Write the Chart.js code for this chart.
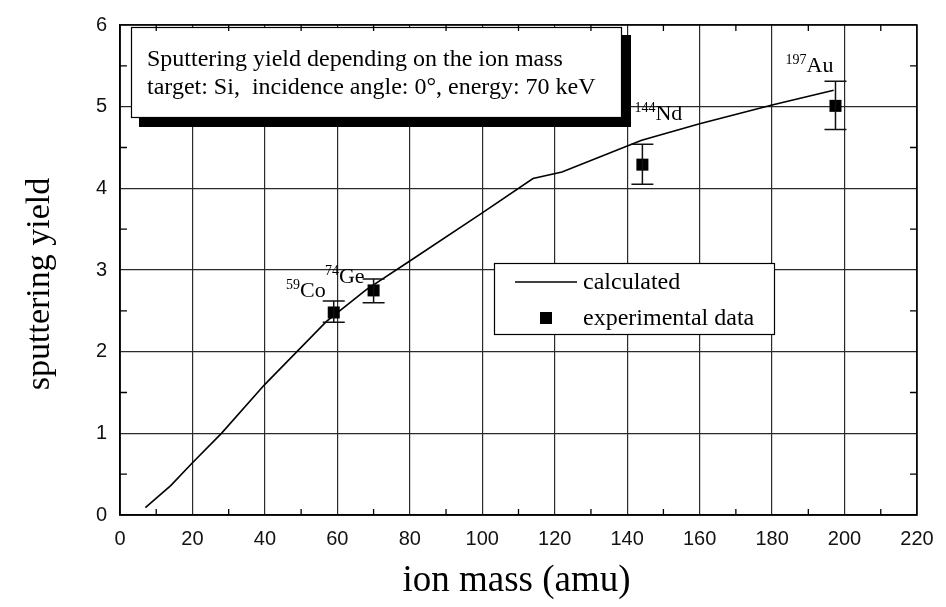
<!DOCTYPE html>
<html>
<head>
<meta charset="utf-8">
<script src="https://cdn.jsdelivr.net/npm/chart.js@4.4.0/dist/chart.umd.min.js"></script>
<style>
  html, body { margin: 0; padding: 0; background: #fff; }
  #wrap { width: 946px; height: 607px; }
</style>
</head>
<body>
<div id="wrap"><canvas id="chart" width="946" height="607"></canvas></div>
<script>
// calculated sputtering yield of Si vs. ion mass (0 deg, 70 keV)
const calcMass  = [7, 14, 20, 28, 40, 57, 68, 80, 100, 114, 122, 144, 160, 180, 197];
const calcYield = [0.09, 0.36, 0.64, 1.0, 1.6, 2.37, 2.76, 3.11, 3.7, 4.12, 4.2, 4.59, 4.79, 5.02, 5.2];

// measured yields with error bars
const expIsotope = ['59', '74', '144', '197'];
const expElement = ['Co', 'Ge', 'Nd', 'Au'];
const expMass  = [59, 70, 144.2, 197.5];
const expYield = [2.48, 2.75, 4.29, 5.01];
const expLow   = [2.36, 2.60, 4.05, 4.72];
const expHigh  = [2.62, 2.89, 4.54, 5.31];

const xTicks = [0, 20, 40, 60, 80, 100, 120, 140, 160, 180, 200, 220];
const yTicks = [0, 1, 2, 3, 4, 5, 6];

const titleLines = [
  'Sputtering yield depending on the ion mass',
  'target: Si,  incidence angle: 0°, energy: 70 keV'
];

const SERIF = '"Liberation Serif", "Times New Roman", serif';
const SANS = '"Liberation Sans", Arial, sans-serif';

// where each isotope label sits relative to its point: [dx, dy, align]
const labelPlace = [
  [-8, -15, 'right'],
  [-9, -7, 'right'],
  [-8, -45, 'left'],
  [-2, -34, 'right']
];

function drawIsotope(ctx, x, y, iso, el, align) {
  ctx.font = '14px ' + SERIF;
  const wIso = ctx.measureText(iso).width;
  ctx.font = '22px ' + SERIF;
  const wEl = ctx.measureText(el).width;
  let left = align === 'right' ? x - wIso - wEl : x;
  ctx.textAlign = 'left';
  ctx.textBaseline = 'alphabetic';
  ctx.font = '14px ' + SERIF;
  ctx.fillText(iso, left, y - 8);
  ctx.font = '22px ' + SERIF;
  ctx.fillText(el, left + wIso, y);
}

const decor = {
  id: 'decor',
  afterDatasetsDraw(chart) {
    const { ctx, scales: { x, y } } = chart;
    ctx.save();

    // error bars
    ctx.strokeStyle = '#111';
    ctx.lineWidth = 1.5;
    expMass.forEach((m, i) => {
      const px = x.getPixelForValue(m);
      const lo = y.getPixelForValue(expLow[i]);
      const hi = y.getPixelForValue(expHigh[i]);
      ctx.beginPath();
      ctx.moveTo(px, hi); ctx.lineTo(px, lo);
      ctx.moveTo(px - 11, hi); ctx.lineTo(px + 11, hi);
      ctx.moveTo(px - 11, lo); ctx.lineTo(px + 11, lo);
      ctx.stroke();
    });

    // isotope labels
    ctx.fillStyle = '#000';
    expMass.forEach((m, i) => {
      const px = x.getPixelForValue(m);
      const py = y.getPixelForValue(expYield[i]);
      const p = labelPlace[i];
      drawIsotope(ctx, px + p[0], py + p[1], expIsotope[i], expElement[i], p[2]);
    });

    // title box with drop shadow
    ctx.fillStyle = '#000';
    ctx.fillRect(139, 35, 492, 92);
    ctx.fillStyle = '#fff';
    ctx.fillRect(131, 27, 491, 91);
    ctx.strokeStyle = '#000';
    ctx.lineWidth = 1.2;
    ctx.strokeRect(131.5, 27.5, 490, 90);
    ctx.fillStyle = '#000';
    ctx.font = '24px ' + SERIF;
    ctx.textAlign = 'left';
    ctx.textBaseline = 'alphabetic';
    ctx.fillText(titleLines[0], 147, 66);
    ctx.fillText(titleLines[1], 147, 94);

    // legend box
    ctx.fillStyle = '#fff';
    ctx.fillRect(494, 263, 280, 71);
    ctx.strokeRect(494.5, 263.5, 280, 71);
    ctx.strokeStyle = '#000';
    ctx.lineWidth = 1.6;
    ctx.beginPath();
    ctx.moveTo(515, 282); ctx.lineTo(577, 282);
    ctx.stroke();
    ctx.fillStyle = '#000';
    ctx.fillRect(540, 312, 12, 12);
    ctx.font = '24px ' + SERIF;
    ctx.fillText(chart.data.datasets[0].label, 583, 289);
    ctx.fillText(chart.data.datasets[1].label, 583, 325);

    ctx.restore();
  },
  afterDraw(chart) {
    const { ctx, chartArea: a, scales: { x, y } } = chart;
    ctx.save();
    ctx.strokeStyle = '#000';
    ctx.lineWidth = 1.5;
    ctx.strokeRect(a.left, a.top, a.right - a.left, a.bottom - a.top);

    // minor ticks, pointing inward on all four sides
    ctx.lineWidth = 1.3;
    ctx.beginPath();
    for (let v = 10; v < 220; v += 20) {
      const px = x.getPixelForValue(v);
      ctx.moveTo(px, a.bottom); ctx.lineTo(px, a.bottom - 6);
      ctx.moveTo(px, a.top); ctx.lineTo(px, a.top + 6);
    }
    for (let v = 0.5; v < 6; v += 1) {
      const py = y.getPixelForValue(v);
      ctx.moveTo(a.left, py); ctx.lineTo(a.left + 7, py);
      ctx.moveTo(a.right, py); ctx.lineTo(a.right - 7, py);
    }
    ctx.stroke();

    // axis titles
    ctx.fillStyle = '#000';
    ctx.textAlign = 'center';
    ctx.textBaseline = 'middle';
    ctx.font = '37px ' + SERIF;
    ctx.fillText('ion mass (amu)', (a.left + a.right) / 2 - 2, 581);
    ctx.save();
    ctx.translate(40, 284);
    ctx.rotate(-Math.PI / 2);
    ctx.font = '34px ' + SERIF;
    ctx.fillText('sputtering yield', 0, 0);
    ctx.restore();

    ctx.restore();
  }
};

const ctx = document.getElementById('chart').getContext('2d');
new Chart(ctx, {
  type: 'scatter',
  data: {
    datasets: [
      {
        label: 'calculated',
        type: 'line',
        data: calcMass.map((m, i) => ({ x: m, y: calcYield[i] })),
        borderColor: '#000',
        borderWidth: 1.6,
        pointRadius: 0,
        fill: false,
        tension: 0
      },
      {
        label: 'experimental data',
        data: expMass.map((m, i) => ({ x: m, y: expYield[i] })),
        pointStyle: 'rect',
        pointRadius: 8.5,
        backgroundColor: '#000',
        borderColor: '#000',
        borderWidth: 0
      }
    ]
  },
  options: {
    responsive: false,
    animation: false,
    devicePixelRatio: 1,
    layout: { padding: { left: 0, right: 29, top: 12, bottom: 0 } },
    plugins: { legend: { display: false }, tooltip: { enabled: false } },
    scales: {
      x: {
        type: 'linear',
        min: 0, max: 220,
        afterBuildTicks: s => { s.ticks = xTicks.map(v => ({ value: v })); },
        afterFit: s => { s.height = 92; },
        grid: { color: '#2a2a2a', lineWidth: 1.2, drawTicks: false },
        border: { color: '#000', width: 1.5 },
        ticks: { font: { family: SANS, size: 20 }, color: '#111', padding: 12, maxRotation: 0, autoSkip: false }
      },
      y: {
        type: 'linear',
        min: 0, max: 6,
        afterBuildTicks: s => { s.ticks = yTicks.map(v => ({ value: v })); },
        afterFit: s => { s.width = 120; },
        grid: { color: '#2a2a2a', lineWidth: 1.2, drawTicks: false },
        border: { color: '#000', width: 1.5 },
        ticks: { font: { family: SANS, size: 20 }, color: '#111', padding: 13 }
      }
    }
  },
  plugins: [decor]
});
</script>
</body>
</html>
